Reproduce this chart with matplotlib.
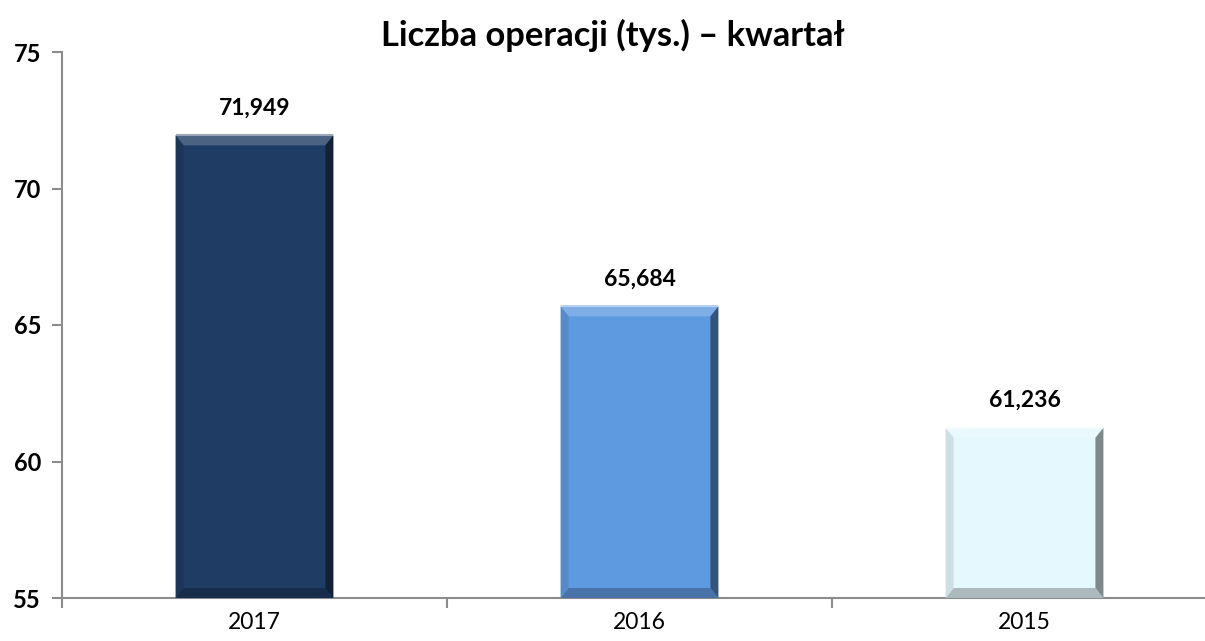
import matplotlib.pyplot as plt
from matplotlib.patches import Polygon
from matplotlib.colors import to_rgb
import numpy as np

years = ["2017", "2016", "2015"]
values = [71.949, 65.684, 61.236]
colors = ["#1F3C64", "#5E9AE0", "#E5F8FD"]
y_ticks = [55, 60, 65, 70, 75]

plt.rcParams['font.family'] = ['Lato', 'DejaVu Sans']


def shade(c, f):
    # f > 0 lighten toward white, f < 0 darken toward black
    c = np.array(to_rgb(c))
    if f >= 0:
        return tuple(c + (1 - c) * f)
    return tuple(c * (1 + f))


fig = plt.figure(figsize=(12.05, 6.41), dpi=100)
ax = fig.add_axes([62 / 1205, 43 / 641, (1205 - 62) / 1205, (598 - 52) / 641])

x = np.arange(len(years))
width = 0.41
ax.set_xlim(-0.5, -0.5 + (1205 - 62) / 385)
ax.set_ylim(55, 75)

bars = ax.bar(x, [v - 55 for v in values], width=width, bottom=55, color=colors,
              edgecolor='none', zorder=2)

# bevel, sizes in pixels converted to data units
px_x = (1205 - 62) / (ax.get_xlim()[1] - ax.get_xlim()[0])
px_y = (598 - 52) / 20.0
bx = 8 / px_x
by = 10 / px_y
for xi, v, c in zip(x, values, colors):
    x0, x1 = xi - width / 2, xi + width / 2
    y0, y1 = 55, v
    top = [(x0, y1), (x1, y1), (x1 - bx, y1 - by), (x0 + bx, y1 - by)]
    bot = [(x0, y0), (x1, y0), (x1 - bx, y0 + by), (x0 + bx, y0 + by)]
    left = [(x0, y0), (x0, y1), (x0 + bx, y1 - by), (x0 + bx, y0 + by)]
    right = [(x1, y0), (x1, y1), (x1 - bx, y1 - by), (x1 - bx, y0 + by)]
    ax.add_patch(Polygon(top, closed=True, fc=shade(c, 0.2), ec='none', zorder=3))
    ax.add_patch(Polygon(bot, closed=True, fc=shade(c, -0.25), ec='none', zorder=3))
    ax.add_patch(Polygon(left, closed=True, fc=shade(c, -0.1), ec='none', zorder=3))
    ax.add_patch(Polygon(right, closed=True, fc=shade(c, -0.45), ec='none', zorder=3))
    # thin light rim along top
    ax.plot([x0, x1], [y1, y1], color=shade(c, 0.55), lw=1.5, zorder=4,
            solid_capstyle='butt')
    ax.annotate(f"{v:.3f}".replace('.', ','), (xi, v), xytext=(0, 12),
                textcoords='offset points', ha='center', va='bottom',
                fontsize=16.5, fontweight='bold')

fig.text(613 / 1205, 1 - 46 / 641, "Liczba operacji (tys.) – kwartał", fontsize=24.8,
         fontweight='bold', ha='center', va='baseline')

for s in ['top', 'right']:
    ax.spines[s].set_visible(False)
for s in ['left', 'bottom']:
    ax.spines[s].set_color('#8C8C8C')
    ax.spines[s].set_linewidth(1.5)

ax.set_yticks(y_ticks)
ax.set_yticklabels([str(t) for t in y_ticks], fontsize=17, fontweight='bold')
ax.tick_params(axis='y', length=7, width=1.5, color='#8C8C8C', pad=8)

ax.set_xticks(x)
ax.set_xticklabels(years, fontsize=16.5)
ax.tick_params(axis='x', length=0, pad=10)
ax.set_xticks([-0.5, 0.5, 1.5], minor=True)
ax.tick_params(axis='x', which='minor', length=7, width=1.5, color='#8C8C8C')

fig.savefig("out.png", dpi=100)
